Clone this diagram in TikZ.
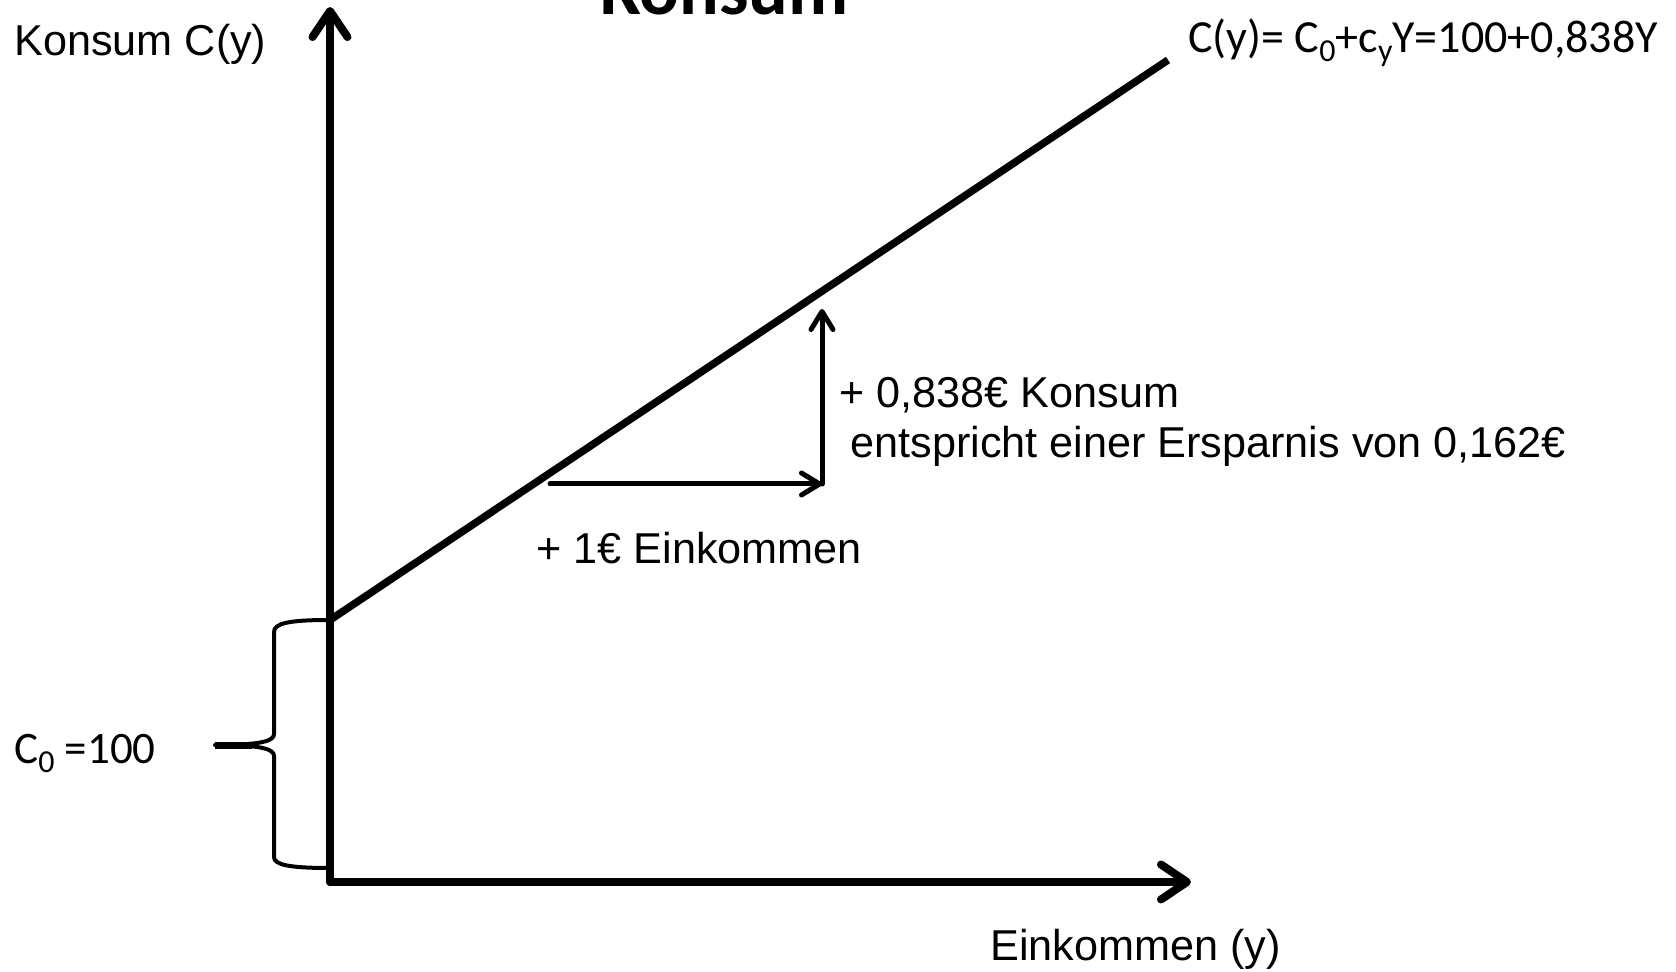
\documentclass[tikz,border=0pt]{standalone}
\usepackage{fontspec}
\setmainfont{Liberation Sans}
\newfontfamily\calibri{Carlito}
\usetikzlibrary{arrows.meta}
\newcommand\lowidx[1]{\raisebox{-4.5pt}{\fontsize{16pt}{16pt}\selectfont #1}}

\begin{document}
\begin{tikzpicture}[x=0.5pt, y=-0.5pt,
	axis/.style={line width=4pt, line cap=round, -{Straight Barb[length=13pt, width=17.5pt, round]}},
	curve/.style={line width=3.75pt},
	delta/.style={line width=2.5pt, line cap=round, -{Straight Barb[length=9pt, width=11pt, round]}},
	lbl/.style={font=\fontsize{21.6pt}{26pt}\selectfont, inner sep=0pt, anchor=base west},
	clbl/.style={font=\calibri\fontsize{22.5pt}{26pt}\selectfont, inner sep=0pt, anchor=base west}]
	\useasboundingbox (0,0) rectangle (1676,972);

	\coordinate (O) at (330, 882);
	\coordinate (ytop) at (330, 7);
	\coordinate (xend) at (1191, 882);
	\coordinate (c0) at (330, 620);
	\coordinate (cend) at (1168, 60);
	\coordinate (dx0) at (550, 484);
	\coordinate (dx1) at (822, 484);
	\coordinate (dy1) at (822, 309);

	\draw[axis] (O) -- (ytop);
	\draw[axis] (O) -- (xend);
	\draw[curve] (c0) -- (cend);
	\draw[delta] (dx0) -- (dx1);
	\draw[delta] (dx1) -- (dy1);

	\draw[line width=2pt, line join=round] (c0) .. controls (290, 620) and (274, 623) .. (274, 632) -- (274, 734)
		.. controls (274, 741) and (262, 745) .. (215, 745)
		.. controls (262, 745) and (274, 749) .. (274, 756) -- (274, 857)
		.. controls (274, 865) and (290, 868) .. (330, 868);
	\draw[line width=3.5pt] (215, 745) -- (252, 745);

	\node[font=\calibri\bfseries\fontsize{37pt}{40pt}\selectfont, inner sep=0pt, anchor=base west] (title) at (600, 15) {Konsum};
	\node[lbl] (ylab) at (14, 56) {Konsum C(y)};
	\node[lbl] (xlab) at (990, 960) {Einkommen (y)};
	\node[lbl] (kons) at (839, 408) {+ 0,838€ Konsum};
	\node[lbl] (spar) at (850, 458) {entspricht einer Ersparnis von 0,162€};
	\node[lbl] (eink) at (536, 564) {+ 1€ Einkommen};
	\node[clbl, font=\calibri\fontsize{23pt}{26pt}\selectfont] (func) at (1188, 53) {C(y)= C\lowidx{0}+c\lowidx{y}Y=100+0,838Y};
	\node[clbl] (cnull) at (14, 763) {C\lowidx{0} =100};
\end{tikzpicture}
\end{document}
